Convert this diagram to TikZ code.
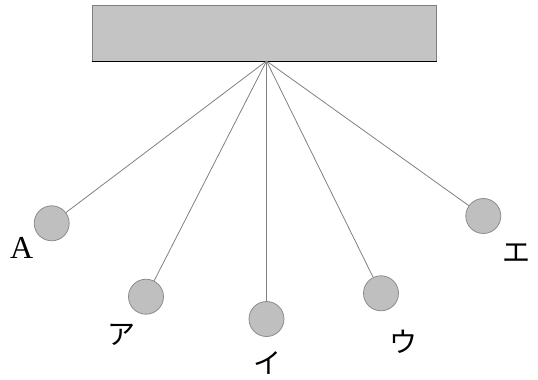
\documentclass[tikz,border=0pt]{standalone}
\usepackage{fontspec}
\setmainfont{Liberation Serif}
\newfontfamily\jpfont{Noto Sans CJK JP}
\begin{document}
\begin{tikzpicture}[x=1pt,y=-1pt,
  ball/.style={circle,draw=black!45,fill=black!25,line width=0.8pt,minimum size=35pt,inner sep=0pt},
  string/.style={draw=black!50,line width=0.8pt},
  lbl/.style={font=\fontsize{32}{34}\selectfont,inner sep=0pt},
  jlbl/.style={font=\jpfont\fontsize{28}{30}\selectfont,inner sep=0pt}]
\useasboundingbox (0,0) rectangle (538,380);
\node[draw=black!50,fill=black!23,line width=0.8pt,minimum width=343.5pt,minimum height=56pt,inner sep=0pt,anchor=north west] (bar) at (92.3,4.7) {};
\draw[line width=1.8pt] (bar.south west) -- (bar.south east);
\coordinate (pivot) at (266.5,61);
\node[ball] (bA) at (51.7,223.3) {};
\node[ball] (b1) at (146,296.7) {};
\node[ball] (b2) at (266.5,319) {};
\node[ball] (b3) at (381,293.3) {};
\node[ball] (b4) at (483.3,216) {};
\foreach \b in {bA,b1,b2,b3,b4} \draw[string] (pivot) -- (\b);
\node[lbl] (lA) at (21.7,248.3) {A};
\node[jlbl] (l1) at (121.7,335) {ア};
\node[jlbl] (l2) at (267.3,363.3) {イ};
\node[jlbl] (l3) at (403.3,341.7) {ウ};
\node[jlbl] (l4) at (516,253) {エ};
\end{tikzpicture}
\end{document}
